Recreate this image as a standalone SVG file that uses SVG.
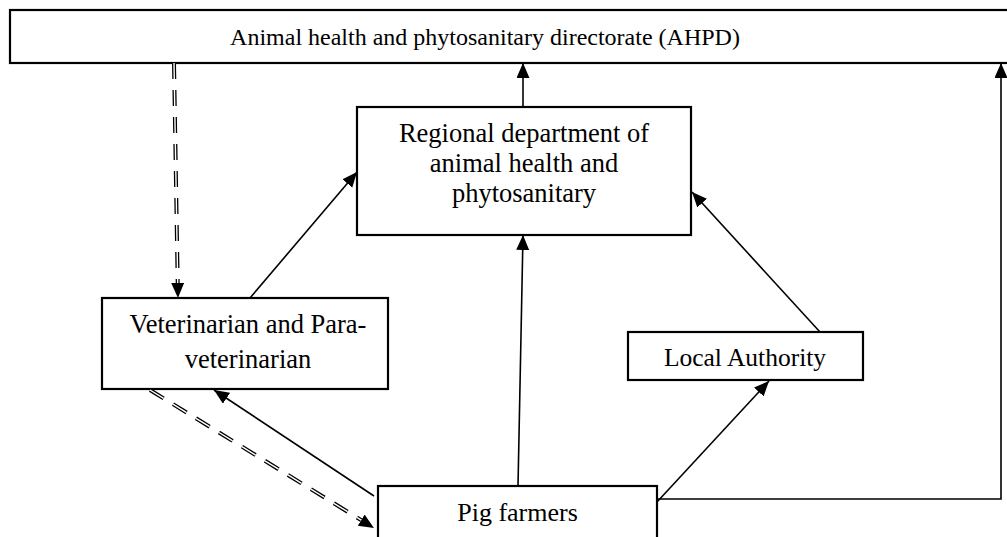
<svg xmlns="http://www.w3.org/2000/svg" width="1007" height="537" viewBox="0 0 1007 537">
<style>
.box{fill:#fff;stroke:#000;stroke-width:2.2}
.t{font-family:"Liberation Serif","Times New Roman",serif;fill:#000;text-anchor:middle}
.c{fill:none;stroke:#000;stroke-width:1.6}
.dd{fill:none;stroke:#000;stroke-width:4;stroke-dasharray:16 11}
.dw{fill:none;stroke:#fff;stroke-width:1.4;stroke-dasharray:16 11}
</style>
<defs>
<marker id="a" markerUnits="userSpaceOnUse" markerWidth="16" markerHeight="14" refX="15" refY="6.5" orient="auto">
<path d="M0,0 L15,6.5 L0,13 z" fill="#000"/>
</marker>
<marker id="b" markerUnits="userSpaceOnUse" markerWidth="16" markerHeight="14" refX="0" refY="6.5" orient="auto">
<path d="M0,0 L15,6.5 L0,13 z" fill="#000"/>
</marker>
</defs>
<g id="ahpd">
<rect class="box" x="10" y="10" width="1010" height="53"/>
<text class="t" x="485" y="45" font-size="24">Animal health and phytosanitary directorate (AHPD)</text>
</g>
<g id="regional">
<rect class="box" x="357" y="107" width="334" height="128"/>
<text class="t" x="524" y="142" font-size="26.5">Regional department of</text>
<text class="t" x="524" y="172" font-size="26.5">animal health and</text>
<text class="t" x="524" y="202" font-size="26.5">phytosanitary</text>
</g>
<g id="vet">
<rect class="box" x="102" y="298" width="286" height="91"/>
<text class="t" x="248" y="333" font-size="26.5">Veterinarian and Para-</text>
<text class="t" x="248" y="368" font-size="26.5">veterinarian</text>
</g>
<g id="local">
<rect class="box" x="628" y="332" width="235" height="48"/>
<text class="t" x="745" y="366" font-size="25.5">Local Authority</text>
</g>
<g id="pig">
<rect class="box" x="378" y="486" width="279" height="60"/>
<text class="t" x="517.5" y="521" font-size="26">Pig farmers</text>
</g>
<g id="connectors">
<line class="c" x1="523" y1="107" x2="523" y2="63" marker-end="url(#a)"/>
<line class="c" x1="250" y1="298" x2="357" y2="172" marker-end="url(#a)"/>
<line class="c" x1="820" y1="332" x2="692" y2="192" marker-end="url(#a)"/>
<line class="c" x1="518" y1="486" x2="523" y2="235" marker-end="url(#a)"/>
<line class="c" x1="657" y1="502" x2="769" y2="381" marker-end="url(#a)"/>
<polyline class="c" points="657,499 1001,499 1001,63" marker-end="url(#a)"/>
<line class="c" x1="374" y1="496" x2="214" y2="390" marker-end="url(#a)"/>
<line class="dd" x1="174" y1="63" x2="177.7" y2="283" marker-end="url(#b)"/>
<line class="dw" x1="174" y1="63" x2="177.7" y2="283"/>
<line class="dd" x1="150" y1="390" x2="361.2" y2="520.1" marker-end="url(#b)"/>
<line class="dw" x1="150" y1="390" x2="361.2" y2="520.1"/>
</g>
</svg>
